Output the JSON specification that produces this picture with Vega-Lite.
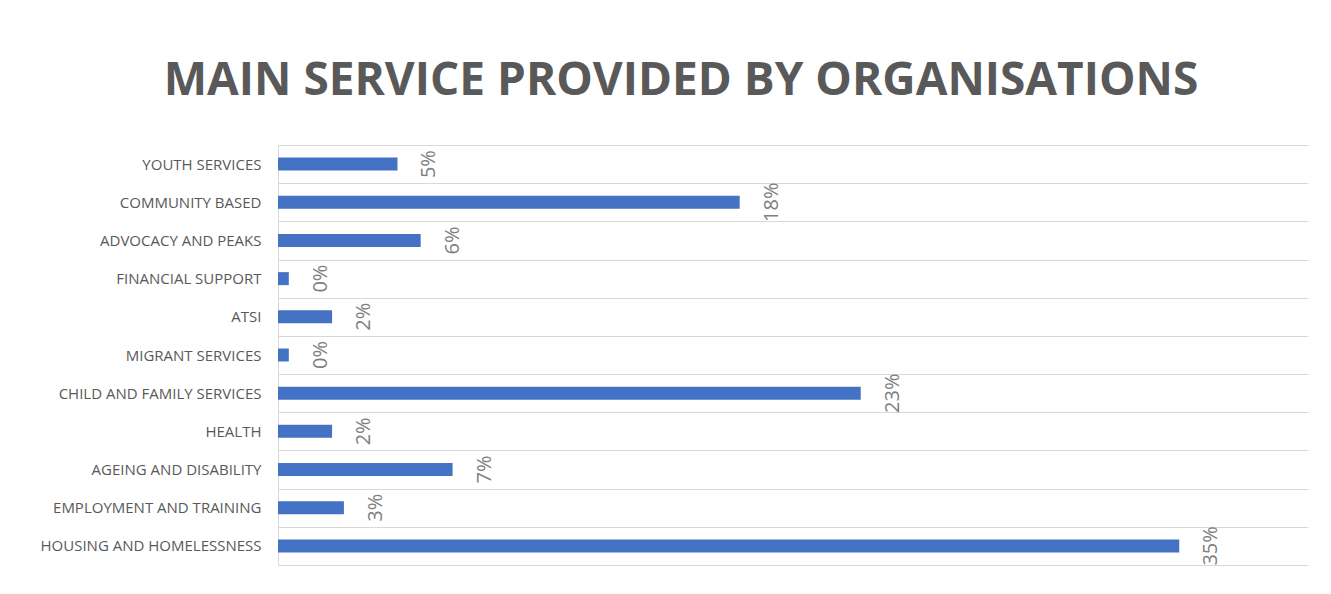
{
  "$schema": "https://vega.github.io/schema/vega-lite/v6.json",
  "autosize": {"type": "none"},
  "padding": {"left": 278, "top": 145, "right": 23, "bottom": 29},
  "width": 1030,
  "height": 420,
  "background": "white",
  "title": {
    "text": "MAIN SERVICE PROVIDED BY ORGANISATIONS",
    "font": "Open Sans",
    "fontSize": 46,
    "fontWeight": "bold",
    "color": "#595959",
    "anchor": "middle",
    "frame": "group",
    "dx": -112,
    "baseline": "alphabetic",
    "offset": -3
  },
  "data": {
    "values": [
      {"service": "YOUTH SERVICES", "share": 0.0464},
      {"service": "COMMUNITY BASED", "share": 0.1793},
      {"service": "ADVOCACY AND PEAKS", "share": 0.0554},
      {"service": "FINANCIAL SUPPORT", "share": 0.0042},
      {"service": "ATSI", "share": 0.021},
      {"service": "MIGRANT SERVICES", "share": 0.0042},
      {"service": "CHILD AND FAMILY SERVICES", "share": 0.2263},
      {"service": "HEALTH", "share": 0.021},
      {"service": "AGEING AND DISABILITY", "share": 0.0678},
      {"service": "EMPLOYMENT AND TRAINING", "share": 0.0256},
      {"service": "HOUSING AND HOMELESSNESS", "share": 0.35}
    ]
  },
  "encoding": {
    "y": {
      "field": "service",
      "type": "nominal",
      "sort": null,
      "scale": {"paddingInner": 0, "paddingOuter": 0},
      "axis": {
        "title": null,
        "tickBand": "extent",
        "grid": true,
        "gridColor": "#d9d9d9",
        "gridWidth": 1,
        "domain": true,
        "domainColor": "#d9d9d9",
        "ticks": false,
        "labelFont": "Open Sans",
        "labelFontSize": 15,
        "labelColor": "#595959",
        "labelPadding": 17,
        "labelLimit": 400
      }
    },
    "x": {
      "field": "share",
      "type": "quantitative",
      "scale": {"domain": [0, 0.4], "nice": false},
      "axis": null
    }
  },
  "layer": [
    {"mark": {"type": "bar", "color": "#4472C4", "height": {"band": 0.34}}},
    {
      "mark": {
        "type": "text",
        "angle": 270,
        "align": "center",
        "baseline": "middle",
        "dy": 32,
        "font": "Open Sans",
        "fontSize": 20,
        "color": "#808080"
      },
      "encoding": {
        "text": {"field": "share", "type": "quantitative", "format": ".0%"}
      }
    }
  ],
  "config": {"view": {"stroke": null}}
}
